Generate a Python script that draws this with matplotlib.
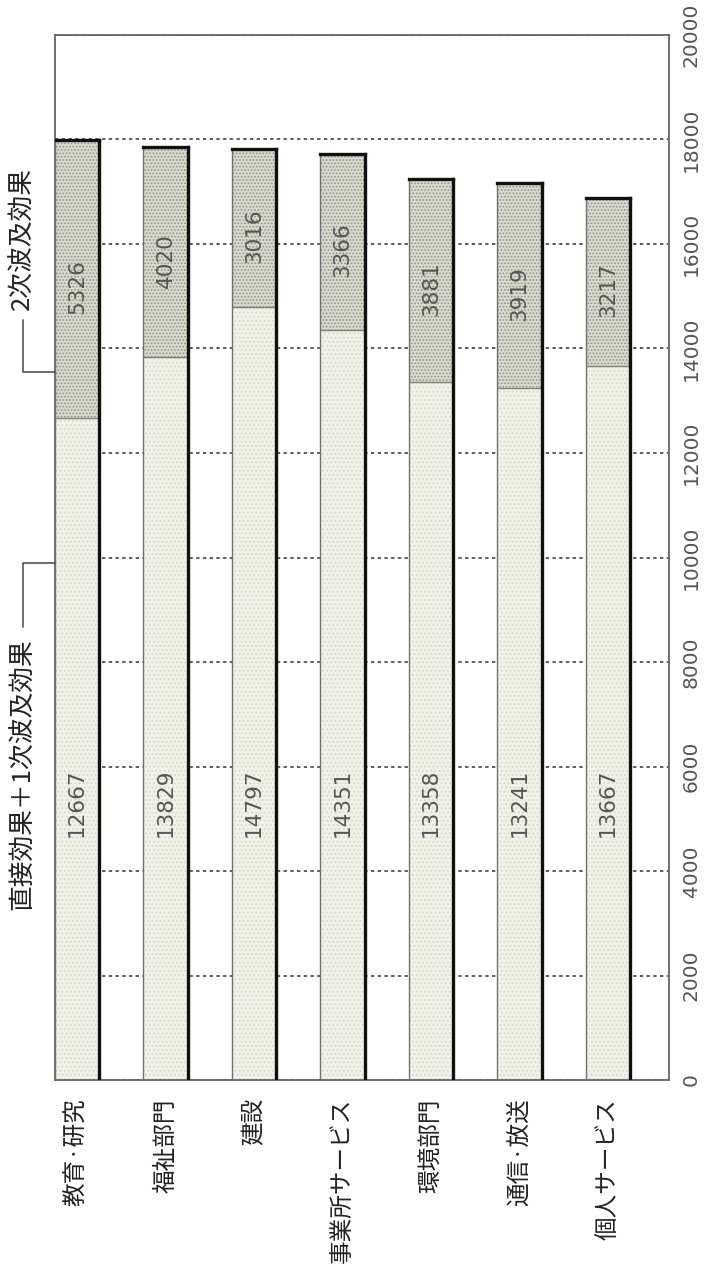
import matplotlib
matplotlib.use("Agg")
import matplotlib.pyplot as plt
import numpy as np

plt.rcParams['font.family'] = ['Noto Sans CJK JP', 'DejaVu Sans']
plt.rcParams['hatch.linewidth'] = 0.8

# Sectors and their induced production effects
categories = ['教育·研究', '福祉部門', '建設', '事業所サービス', '環境部門', '通信·放送', '個人サービス']
direct_first = [12667, 13829, 14797, 14351, 13358, 13241, 13667]   # 直接効果＋1次波及効果
second_round = [5326, 4020, 3016, 3366, 3881, 3919, 3217]          # 2次波及効果
yticks = [0, 2000, 4000, 6000, 8000, 10000, 12000, 14000, 16000, 18000, 20000]

lbl_lower = '直接効果＋1次波及効果'
lbl_upper = '2次波及効果'

W, H = 704, 1266
fig = plt.figure(figsize=(W / 100, H / 100), dpi=100)
ax = fig.add_axes([55 / W, 1 - 1080 / H, (669 - 55) / W, (1080 - 35) / H])

x = np.arange(len(categories))
bw = 0.5

lo_face = '#f1f1e7'
hi_face = '#d9d9cd'
bars_lo = ax.bar(x, direct_first, width=bw, color=lo_face, edgecolor='#d6d6c9',
                 hatch='....', linewidth=0, zorder=2)
bars_hi = ax.bar(x, second_round, bottom=direct_first, width=bw, color=hi_face,
                 edgecolor='#929286', hatch='.....', linewidth=0, zorder=2)

# Bar outlines: thin grey left side and divider, heavy right side and top
for plo, phi in zip(bars_lo.patches, bars_hi.patches):
    x0 = plo.get_x()
    x1 = x0 + plo.get_width()
    mid = plo.get_height()
    top = phi.get_y() + phi.get_height()
    ax.plot([x0, x0], [0, top], color='#707070', lw=1.0, zorder=3, solid_capstyle='butt')
    ax.plot([x0, x1], [mid, mid], color='#808080', lw=1.0, zorder=3, solid_capstyle='butt')
    ax.plot([x1, x1], [0, top], color='#111111', lw=2.4, zorder=4, solid_capstyle='projecting')
    ax.plot([x0, x1], [top, top], color='#111111', lw=2.4, zorder=4, solid_capstyle='projecting')

# Value labels inside the segments
num_font = ['DejaVu Sans']
for xi, lo, hi in zip(x, direct_first, second_round):
    ax.text(xi, 5300, f'{lo}', rotation=90, ha='center', va='center',
            fontsize=15.5, color='#555555', family=num_font, zorder=5)
    ax.text(xi, lo + hi / 2 - 150, f'{hi}', rotation=90, ha='center', va='center',
            fontsize=15.5, color='#555555', family=num_font, zorder=5)

ax.set_xlim(-0.25, 6.69)
ax.set_ylim(0, 20000)

ax.set_yticks(yticks)
ax.yaxis.tick_right()
ax.set_yticklabels([str(v) for v in yticks], rotation=90, va='center',
                   fontsize=14.5, color='#555555', family=num_font)
ax.tick_params(axis='y', length=0, pad=9)

ax.set_xticks(x)
ax.set_xticklabels(categories, rotation=90, va='top', ha='center',
                   fontsize=17, color='#222222')
ax.tick_params(axis='x', length=0, pad=13)

ax.yaxis.grid(True, linestyle=(0, (2.2, 2.2)), color='#333333', lw=1.1)
ax.set_axisbelow(True)
for s in ax.spines.values():
    s.set_color('#666666')
    s.set_linewidth(1.3)

# Series captions with leader lines to the first bar
fig.text(23 / W, 1 - 167 / H, lbl_upper, rotation=90, ha='center', va='top',
         fontsize=18.5, color='#222222')
fig.text(23 / W, 1 - 638 / H, lbl_lower, rotation=90, ha='center', va='top',
         fontsize=18.5, color='#222222')

first = bars_lo.patches[0]
ax.annotate('', xy=(first.get_x(), 13550), xycoords='data',
            xytext=(23, H - 320), textcoords='figure pixels',
            arrowprops=dict(arrowstyle='-', color='#555555', lw=1.2, shrinkA=0, shrinkB=0,
                            connectionstyle='angle,angleA=90,angleB=0,rad=0'),
            annotation_clip=False)
ax.annotate('', xy=(first.get_x(), 9900), xycoords='data',
            xytext=(23, H - 627), textcoords='figure pixels',
            arrowprops=dict(arrowstyle='-', color='#555555', lw=1.2, shrinkA=0, shrinkB=0,
                            connectionstyle='angle,angleA=90,angleB=0,rad=0'),
            annotation_clip=False)

fig.savefig('out.png', dpi=100, facecolor='white')
